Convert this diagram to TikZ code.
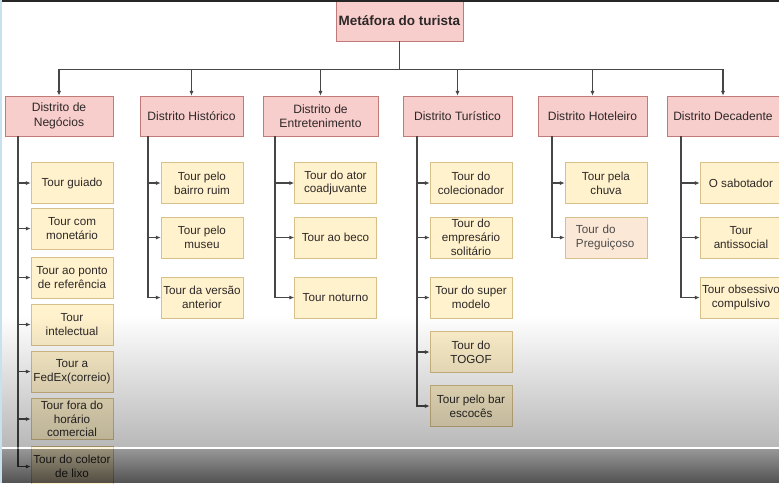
\documentclass[tikz,border=0pt]{standalone}
\usepackage{fontspec}
\setmainfont{Liberation Sans}
\usetikzlibrary{positioning,calc,arrows.meta,fadings}
\definecolor{DistFill}{HTML}{F8CECC}
\definecolor{DistLine}{HTML}{C07A78}
\definecolor{TourFill}{HTML}{FFF2CC}
\definecolor{TourLine}{HTML}{D8C08A}
\definecolor{LinkGray}{RGB}{70,70,70}
\definecolor{TextGray}{RGB}{45,40,40}
\definecolor{EdgeBlue}{RGB}{200,225,240}
\tikzfading[name=dimdown,top color=transparent!100,bottom color=transparent!0]
\tikzfading[name=banddown,top color=transparent!40,bottom color=transparent!0]
\tikzset{
  topbox/.style={draw=DistLine,fill=DistFill,minimum width=3.175cm,minimum height=1cm,
    inner xsep=1pt,font=\fontsize{9.6}{11}\selectfont\bfseries,text=TextGray},
  dist/.style={draw=DistLine,fill=DistFill,minimum height=1cm,inner sep=1pt,align=center,
    font=\fontsize{8.6}{10.4}\selectfont,text=TextGray},
  tour/.style={draw=TourLine,fill=TourFill,minimum width=2.05cm,minimum height=1.025cm,
    inner sep=1pt,align=center,font=\fontsize{8.3}{9.8}\selectfont,text=TextGray},
  link/.style={draw=LinkGray,line width=0.8pt,-{Latex[length=3.5pt,width=3pt]}},
}
\tikzset{tourpale/.style={tour,fill=TourFill!55!DistFill!80!white,text=black!70,align=left,text width=1.5cm}}

\begin{document}
\begin{tikzpicture}[x=0.025cm,y=-0.025cm]
\useasboundingbox (0,0) rectangle (779,483);
\clip (0,0) rectangle (779,483);
\fill[white] (0,0) rectangle (779,483);
% root
\node[topbox] (top) at (399.5,21) {Metáfora do turista};
% districts
\node[dist,minimum width=2.7cm] (dNeg) at (59,116) {Distrito de\\Negócios};
\node[dist,minimum width=2.575cm] (dHis) at (191.5,116) {Distrito Histórico};
\node[dist,minimum width=2.875cm] (dEnt) at (320.5,116) {Distrito de\\Entretenimento};
\node[dist,minimum width=2.725cm] (dTur) at (457.5,116) {Distrito Turístico};
\node[dist,minimum width=2.725cm] (dHot) at (592.5,116) {Distrito Hoteleiro};
\node[dist,minimum width=2.8cm] (dDec) at (723,116) {Distrito Decadente};
\foreach \d in {dNeg,dHis,dEnt,dTur,dHot,dDec}
  \draw[link] (top.south) -- ++(0,28) -| (\d.north);
% spine tops
\coordinate (sNeg) at (18,136);
\coordinate (sHis) at (148,136);
\coordinate (sEnt) at (275,136);
\coordinate (sTur) at (417,136);
\coordinate (sHot) at (552,136);
\coordinate (sDec) at (681,136);
% negocios
\node[tour] (neg1) at (72,183) {Tour guiado};
\node[tour] (neg2) at (72,228.5) {Tour com\\monetário};
\node[tour] (neg3) at (72,277.5) {Tour ao ponto\\de referência};
\node[tour] (neg4) at (72,324.5) {Tour\\intelectual};
\node[tour] (neg5) at (72,371.5) {Tour a\\FedEx(correio)};
\node[tour] (neg6) at (72,419) {Tour fora do\\horário\\comercial};
\node[tour] (neg7) at (72,466.5) {Tour do coletor\\de lixo};
% historico
\node[tour] (his1) at (202,183) {Tour pelo\\bairro ruim};
\node[tour] (his2) at (202,237.5) {Tour pelo\\museu};
\node[tour] (his3) at (202,297.5) {Tour da versão\\anterior};
% entretenimento
\node[tour] (ent1) at (335.5,183) {Tour do ator\\coadjuvante};
\node[tour] (ent2) at (335.5,237.5) {Tour ao beco};
\node[tour] (ent3) at (335.5,297.5) {Tour noturno};
% turistico
\node[tour] (tur1) at (471,183) {Tour do\\colecionador};
\node[tour] (tur2) at (471,237.5) {Tour do\\empresário\\solitário};
\node[tour] (tur3) at (471,297.5) {Tour do super\\modelo};
\node[tour] (tur4) at (471,352) {Tour do\\TOGOF};
\node[tour] (tur5) at (471,406) {Tour pelo bar\\escocês};
% hoteleiro
\node[tour] (hot1) at (606,183) {Tour pela\\chuva};
\node[tourpale] (hot2) at (606,237.5) {Tour do\\Preguiçoso};
% decadente
\node[tour] (dec1) at (741,183) {O sabotador};
\node[tour] (dec2) at (741,237.5) {Tour\\antissocial};
\node[tour] (dec3) at (741,297.5) {Tour obsessivo\\compulsivo};
\foreach \t in {neg1,neg2,neg3,neg4,neg5,neg6,neg7} \draw[link] (sNeg) |- (\t.west);
\foreach \t in {his1,his2,his3} \draw[link] (sHis) |- (\t.west);
\foreach \t in {ent1,ent2,ent3} \draw[link] (sEnt) |- (\t.west);
\foreach \t in {tur1,tur2,tur3,tur4,tur5} \draw[link] (sTur) |- (\t.west);
\foreach \t in {hot1,hot2} \draw[link] (sHot) |- (\t.west);
\foreach \t in {dec1,dec2,dec3} \draw[link] (sDec) |- (\t.west);
% screen shading
\fill[black,path fading=dimdown,fill opacity=0.28] (0,315) rectangle (779,447);
\fill[white,fill opacity=0.35] (0,446.5) rectangle (779,449);
\fill[black,path fading=banddown,fill opacity=0.68] (0,449) rectangle (779,483);
\fill[black!85] (0,0) rectangle (779,1.5);
\fill[EdgeBlue] (0,0) rectangle (2,483);
\end{tikzpicture}
\end{document}
